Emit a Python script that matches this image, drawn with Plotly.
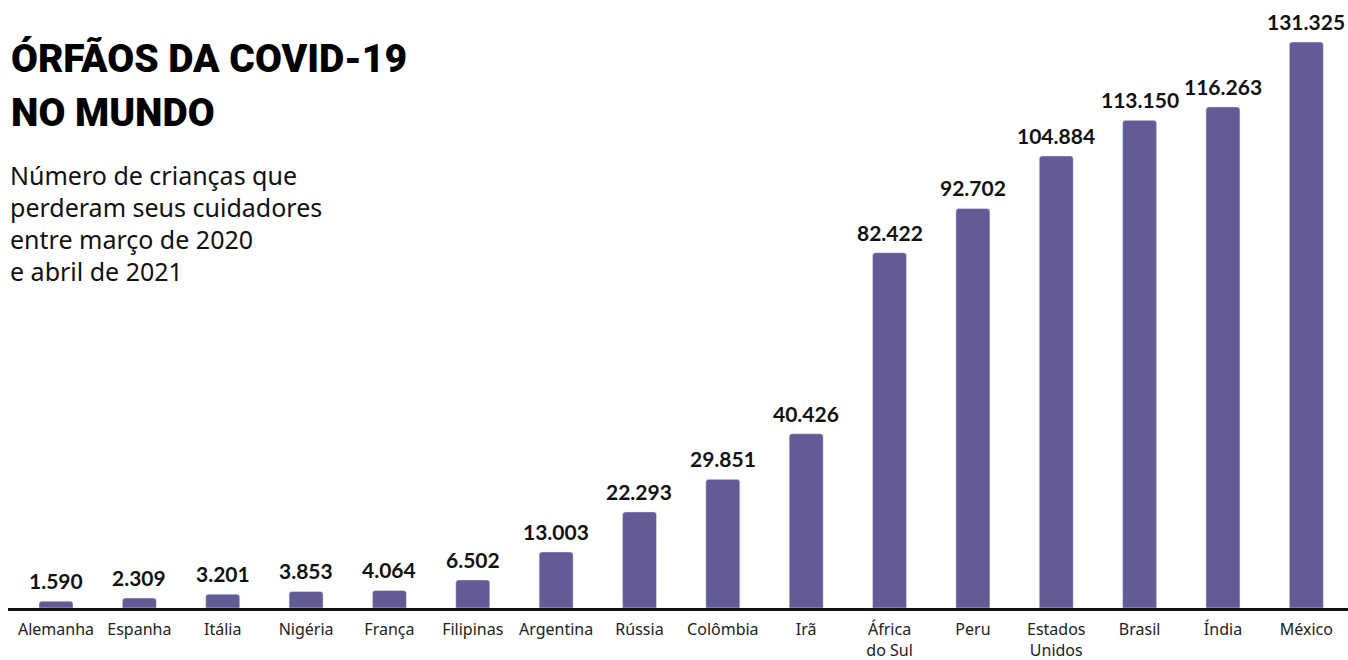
import plotly.graph_objects as go

paises = ["Alemanha", "Espanha", "Itália", "Nigéria", "França", "Filipinas", "Argentina",
          "Rússia", "Colômbia", "Irã", "África<br>do Sul", "Peru", "Estados<br>Unidos",
          "Brasil", "Índia", "México"]
orfaos = [1590, 2309, 3201, 3853, 4064, 6502, 13003, 22293, 29851, 40426,
          82422, 92702, 104884, 113150, 116263, 131325]

titulo = ["ÓRFÃOS DA COVID-19", "NO MUNDO"]
subtitulo = ["Número de crianças que", "perderam seus cuidadores",
             "entre março de 2020", "e abril de 2021"]

BAR = "#625b96"

def fmt(v):
    return f"{v:,}".replace(",", ".")

fig = go.Figure(go.Bar(
    x=paises, y=orfaos, marker=dict(color=BAR, cornerradius=3),
    hoverinfo="skip",
))

ann = []
for p, v in zip(paises, orfaos):
    ann.append(dict(x=p, y=v, xref="x", yref="y", text=fmt(v), showarrow=False,
                    yanchor="bottom", yshift=6,
                    font=dict(family="Lato", size=21, color="#111111", weight="bold")))

H = 608.0
W = 1340.0
for i, t in enumerate(titulo):
    ann.append(dict(x=(9 - 8) / W, y=1 - (59 + 54 * i) / H, xref="paper", yref="paper",
                    xanchor="left", yanchor="middle", text=t, showarrow=False,
                    font=dict(family="Roboto", size=39, color="#000000", weight=900)))
for i, t in enumerate(subtitulo):
    ann.append(dict(x=(8 - 8) / W, y=1 - (175 + 32 * i) / H, xref="paper", yref="paper",
                    xanchor="left", yanchor="middle", text=t, showarrow=False,
                    font=dict(family="Noto Sans", size=25, color="#111111")))

fig.update_layout(
    width=1348, height=660,
    margin=dict(l=8, r=0, t=0, b=52),
    paper_bgcolor="white", plot_bgcolor="white",
    bargap=0.592,
    showlegend=False,
    annotations=ann,
    xaxis=dict(type="category", range=[-0.576, 15.5], showline=True, linecolor="#111111",
               linewidth=2.5, ticks="", showgrid=False, zeroline=False,
               automargin=False, ticklabelstandoff=5,
               tickfont=dict(family="Noto Sans", size=16, color="#222222"),
               fixedrange=True),
    yaxis=dict(range=[0, 141067], visible=False, showgrid=False, zeroline=False,
               automargin=False, fixedrange=True),
)

fig.write_html("out.html")
